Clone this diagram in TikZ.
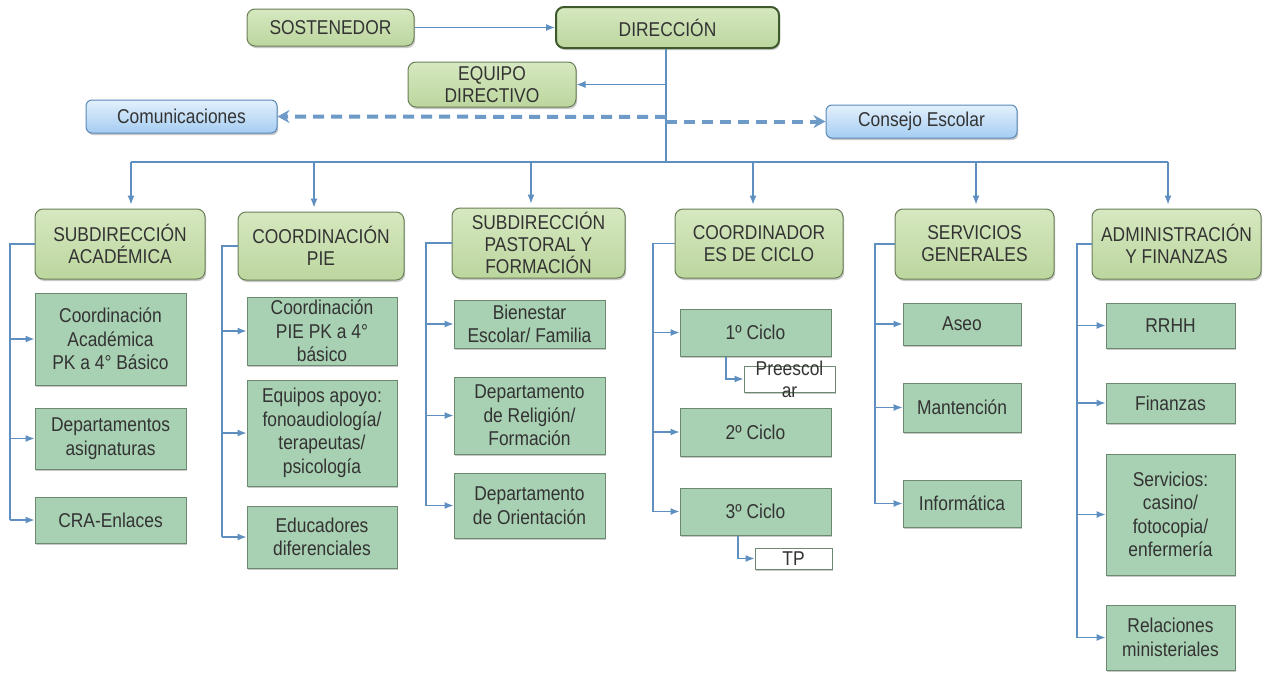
\documentclass[tikz,border=0pt]{standalone}
\usepackage{fontspec}
\setmainfont{Liberation Sans}[FakeStretch=0.87]
\usetikzlibrary{arrows.meta,shadows,calc}
\definecolor{txt}{HTML}{333333}
\definecolor{ln}{HTML}{5D8FC0}
\definecolor{hdrtop}{HTML}{D6E8C0}
\definecolor{hdrbot}{HTML}{BCD69E}
\definecolor{hdrbd}{HTML}{6A7F58}
\definecolor{dirbd}{HTML}{3E5A2C}
\definecolor{chfill}{HTML}{A8D0B2}
\definecolor{chbd}{HTML}{6C8A70}
\definecolor{bltop}{HTML}{E3F0FC}
\definecolor{blbot}{HTML}{A5CDF2}
\definecolor{blbd}{HTML}{5A89BA}
\newcommand\bx[7]{\node[#2, minimum width={(#5)-(#3)}, minimum height={(#6)-(#4)}] (#1) at ({((#3)+(#5))/2},{((#4)+(#6))/2}) {#7};}
\begin{document}
\begin{tikzpicture}[x=1pt,y=-1pt,
  shd/.style={drop shadow={shadow xshift=1.2pt,shadow yshift=-2pt,opacity=0.3,fill=black!70}},
  hdr/.style={shd,rounded corners=8pt,draw=hdrbd,line width=1pt,top color=hdrtop,bottom color=hdrbot,
    text=txt,align=center,inner sep=1pt,font=\fontsize{20}{22}\selectfont},
  dirbox/.style={hdr,draw=dirbd,line width=2pt},
  blue/.style={shd,rounded corners=6pt,draw=blbd,line width=1pt,top color=bltop,bottom color=blbot,
    text=txt,align=center,inner sep=1pt,font=\fontsize{20}{22}\selectfont},
  chbox/.style={shd,draw=chbd,line width=1pt,fill=chfill,text=txt,align=center,inner sep=1pt,
    font=\fontsize{20}{23.5}\selectfont},
  whbox/.style={shd,draw=chbd,line width=1pt,fill=white,inner sep=0pt},
  ln/.style={draw=ln,line width=1.2pt},
  arr/.style={ln,-{Latex[length=9pt,width=7pt]}},
  darr/.style={draw=ln!90,line width=4pt,dash pattern=on 11pt off 7pt,-{Stealth[length=12pt,width=13pt,inset=4pt]}},
  lbl/.style={text=txt,align=center,font=\fontsize{20}{22}\selectfont,inner sep=0pt}
]
\useasboundingbox[fill=white] (0,0) rectangle (1277,675);

% top
\bx{sos}{hdr}{247}{9}{414}{46}{SOSTENEDOR}
\bx{dir}{dirbox}{556}{7}{779}{48}{DIRECCIÓN}
\bx{eq}{hdr}{408}{62}{576}{107}{EQUIPO\\DIRECTIVO}
\bx{com}{blue}{86}{100}{277}{133}{Comunicaciones}
\bx{con}{blue}{826}{105}{1017}{138}{Consejo Escolar}

% headers
\bx{h1}{hdr}{35}{209}{205}{279}{SUBDIRECCIÓN\\ACADÉMICA}
\bx{h2}{hdr}{238}{212}{404}{280}{COORDINACIÓN\\PIE}
\bx{h3}{hdr}{452}{208}{625}{278}{SUBDIRECCIÓN\\PASTORAL Y\\FORMACIÓN}
\bx{h4}{hdr}{675}{209}{843}{278}{COORDINADOR\\ES DE CICLO}
\bx{h5}{hdr}{895}{209}{1054}{279}{SERVICIOS\\GENERALES}
\bx{h6}{hdr}{1092}{209}{1261}{279}{ADMINISTRACIÓN\\Y FINANZAS}

% children
\bx{c11}{chbox}{35}{293}{186}{385}{Coordinación\\Académica\\PK a 4° Básico}
\bx{c12}{chbox}{35}{408}{186}{469}{Departamentos\\asignaturas}
\bx{c13}{chbox}{35}{497}{186}{543}{CRA-Enlaces}

\bx{c21}{chbox}{247}{297}{397}{365}{Coordinación\\PIE PK a 4°\\básico}
\bx{c22}{chbox}{247}{380}{397}{486}{Equipos apoyo:\\fonoaudiología/\\terapeutas/\\psicología}
\bx{c23}{chbox}{247}{506}{397}{568}{Educadores\\diferenciales}

\bx{c31}{chbox}{454}{300}{605}{348}{Bienestar\\Escolar/ Familia}
\bx{c32}{chbox}{454}{377}{605}{454}{Departamento\\de Religión/\\Formación}
\bx{c33}{chbox}{454}{473}{605}{538}{Departamento\\de Orientación}

\bx{c41}{chbox}{680}{309}{831}{356}{1º Ciclo}
\bx{pre}{whbox}{744}{366}{835}{392}{}
\node[lbl] (prel) at (pre.center) {Preescol\\ar};
\bx{c42}{chbox}{680}{408}{831}{456}{2º Ciclo}
\bx{c43}{chbox}{680}{488}{831}{535}{3º Ciclo}
\bx{tp}{whbox}{755}{548}{832}{569}{}
\node[lbl] (tpl) at (tp.center) {TP};

\bx{c51}{chbox}{903}{303}{1021}{345}{Aseo}
\bx{c52}{chbox}{903}{383}{1021}{432}{Mantención}
\bx{c53}{chbox}{903}{480}{1021}{527}{Informática}

\bx{c61}{chbox}{1106}{303}{1235}{348}{RRHH}
\bx{c62}{chbox}{1106}{383}{1235}{423}{Finanzas}
\bx{c63}{chbox}{1106}{454}{1235}{575}{Servicios:\\casino/\\fotocopia/\\enfermería}
\bx{c64}{chbox}{1106}{605}{1235}{670}{Relaciones\\ministeriales}

% top connectors
\coordinate (v) at (666,162);
\coordinate (dl) at (666,117);
\coordinate (dr) at (666,121.5);
\draw[arr] (sos.east) -- (dir.west);
\draw[ln] (dir.south -| v) -- (v);
\draw[arr] (v |- eq.east) -- (eq.east);
\draw[darr] (dl) -- (com.east);
\draw[darr] (dr) -- (con.west);

% bus
\coordinate (d1) at (131,162);
\coordinate (d2) at (314,162);
\coordinate (d3) at (531,162);
\coordinate (d4) at (753,162);
\coordinate (d5) at (976,162);
\coordinate (d6) at (1168,162);
\draw[ln] (d1) -- (d6);
\foreach \i in {1,...,6} {\draw[arr,shorten >=4pt] (d\i) -- (d\i |- h\i.north);}

% branches
\coordinate (b1) at (10,0);
\coordinate (b2) at (222,0);
\coordinate (b3) at (426,0);
\coordinate (b4) at (653,0);
\coordinate (b5) at (875,0);
\coordinate (b6) at (1077,0);
\draw[ln] (h1.west) -- (h1.west -| b1) -- (c13.west -| b1);
\draw[ln] (h2.west) -- (h2.west -| b2) -- (c23.west -| b2);
\draw[ln] (h3.west) -- (h3.west -| b3) -- (c33.west -| b3);
\draw[ln] (h4.west) -- (h4.west -| b4) -- (c43.west -| b4);
\draw[ln] (h5.west) -- (h5.west -| b5) -- (c53.west -| b5);
\draw[ln] (h6.west) -- (h6.west -| b6) -- (c64.west -| b6);
\foreach \c in {11,12,13} {\draw[arr] (c\c.west -| b1) -- (c\c.west);}
\foreach \c in {21,22,23} {\draw[arr] (c\c.west -| b2) -- (c\c.west);}
\foreach \c in {31,32,33} {\draw[arr] (c\c.west -| b3) -- (c\c.west);}
\foreach \c in {41,42,43} {\draw[arr] (c\c.west -| b4) -- (c\c.west);}
\foreach \c in {51,52,53} {\draw[arr] (c\c.west -| b5) -- (c\c.west);}
\foreach \c in {61,62,63,64} {\draw[arr] (c\c.west -| b6) -- (c\c.west);}

% sub-branches
\coordinate (p1) at (726,0);
\coordinate (p2) at (738,0);
\draw[arr] (c41.south -| p1) |- (pre.west);
\draw[arr] (c43.south -| p2) |- (tp.west);
\end{tikzpicture}
\end{document}
